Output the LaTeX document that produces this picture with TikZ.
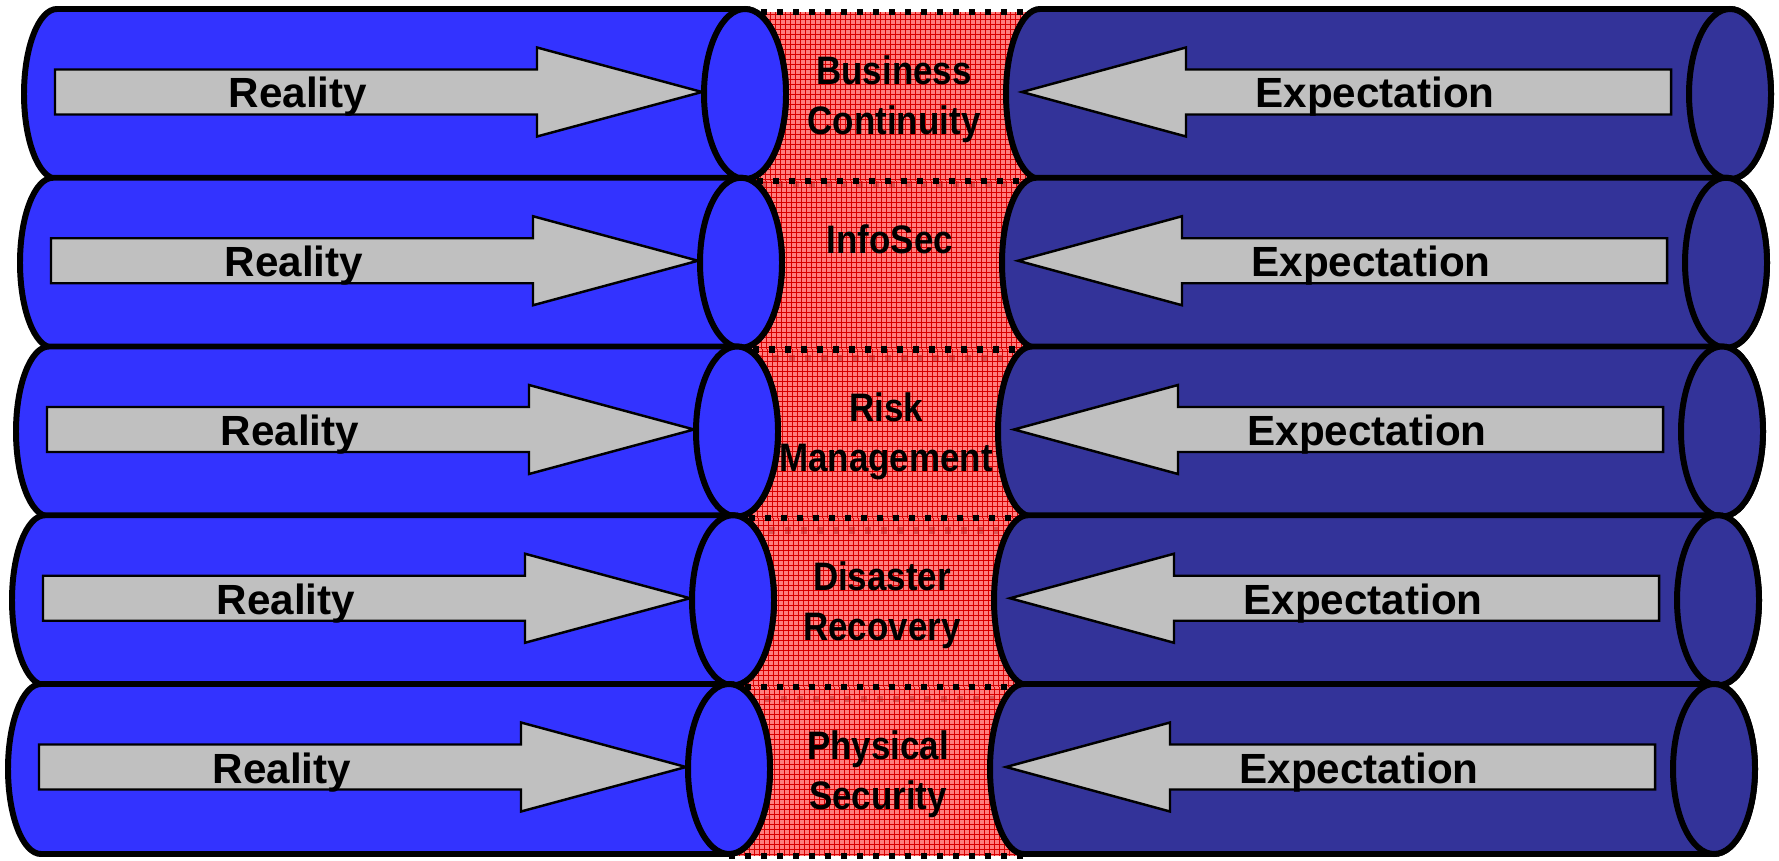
\documentclass[tikz,border=0pt]{standalone}
\usepackage{fontspec}
\setmainfont{Liberation Sans}
\newfontfamily\narrowfont[FakeStretch=0.88]{Liberation Sans}

\definecolor{realblue}{RGB}{51,51,255}
\definecolor{expectblue}{RGB}{51,51,153}
\definecolor{arrowgray}{RGB}{192,192,192}
\definecolor{bandpink}{RGB}{255,105,105}

\tikzset{
  tube/.style={draw=black, line width=1.7pt},
  bandgrid/.style={red!85!black, line width=0.2pt},
  edgedots/.style={black, line width=1.8pt, dash pattern=on 1.8pt off 2.75pt},
  fatarrow/.style={fill=arrowgray, draw=black, line width=0.7pt, line join=miter},
  arrowtext/.style={font=\bfseries\fontsize{12}{14}\selectfont, anchor=base, inner sep=0pt},
  topictext/.style={font=\narrowfont\bfseries\fontsize{11.3}{14.2}\selectfont, align=center, anchor=north, inner sep=0pt}
}

\begin{document}
\begin{tikzpicture}[x=0.01cm,y=-0.01cm]
                \useasboundingbox (0,0) rectangle (1779,861);

                \foreach \i/\off/\topic in {0/3/{Business\\Continuity}, 1/8/{InfoSec}, 2/12/{Risk\\Management}, 3/12/{Disaster\\Recovery}, 4/0/{Physical\\Security}}{
                  \pgfmathsetmacro{\cy}{94+168.75*\i}
                  \pgfmathsetmacro{\dx}{-4*\i}
                  \begin{scope}[shift={(\dx,\cy)}]
                    \fill[bandpink, fill opacity=0.85] (745,-82) rectangle (1040,87); % middle band
                    \draw[bandgrid, step=0.05cm] (745,-82) grid (1040,87);
                    \draw[edgedots] (745,-82) -- (1040,-82);
                    \draw[edgedots] (745,{87+\off}) -- (1040,{87+\off});

                    \filldraw[tube, fill=realblue] (57,-85) arc[start angle=-90, end angle=-270, x radius=33, y radius=85] -- (745,85) arc[start angle=90, end angle=-90, x radius=41, y radius=85] -- cycle; % reality tube
                    \filldraw[tube, fill=realblue] (745,0) ellipse[x radius=41, y radius=85];

                    \filldraw[tube, fill=expectblue] (1040,-85) arc[start angle=-90, end angle=-270, x radius=34, y radius=85] -- (1730,85) arc[start angle=90, end angle=-90, x radius=41, y radius=85] -- cycle; % expectation tube
                    \filldraw[tube, fill=expectblue] (1730,0) ellipse[x radius=41, y radius=85];

                    \coordinate (rtip\i) at (702,-2);
                    \coordinate (etip\i) at (1022,-2);
                    \filldraw[fatarrow] (55,-24.5) -- (537,-24.5) -- (537,-46.5) -- (rtip\i) -- (537,42.5) -- (537,20.5) -- (55,20.5) -- cycle;
                    \filldraw[fatarrow] (1671,-24.5) -- (1186,-24.5) -- (1186,-46.5) -- (etip\i) -- (1186,42.5) -- (1186,20.5) -- (1671,20.5) -- cycle;

                    \node[arrowtext] (reality\i) at (298,14) {Reality};
                    \node[arrowtext] (expect\i) at (1375,14) {Expectation};
                    \node[topictext] (topic\i) at (894,-39) {\topic};
                  \end{scope}
                }
\end{tikzpicture}
\end{document}
